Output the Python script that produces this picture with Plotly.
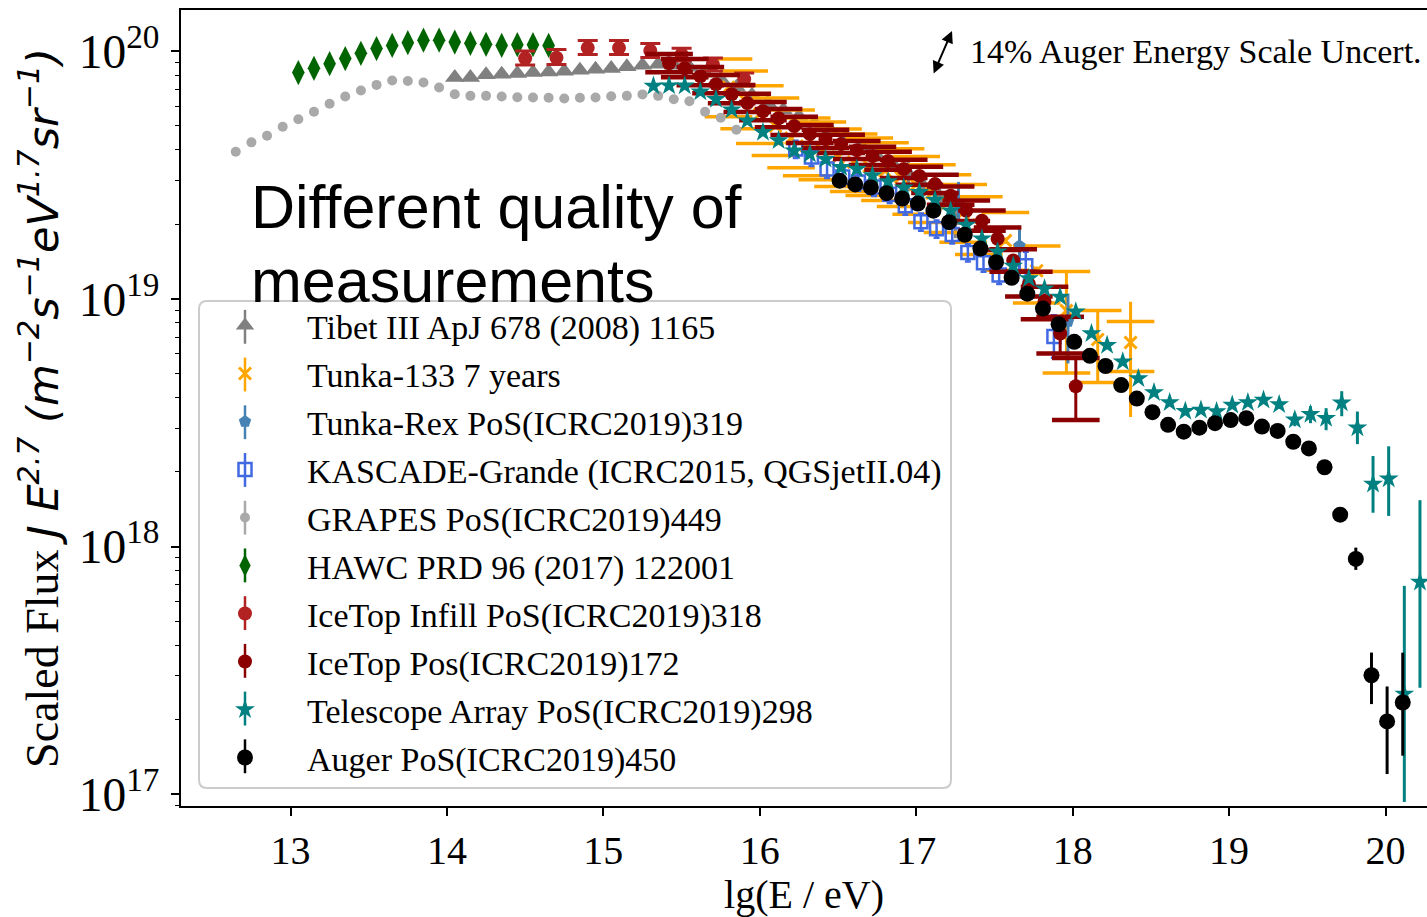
import plotly.graph_objects as go

# ---------------- data ----------------
grapes_x = [12.65, 12.75, 12.85, 12.95, 13.05, 13.15, 13.25, 13.35, 13.45, 13.55, 13.65,
            13.75, 13.85, 13.95, 14.05, 14.15, 14.25, 14.35, 14.45, 14.55, 14.65, 14.75,
            14.85, 14.95, 15.05, 15.15, 15.25, 15.35, 15.45, 15.55, 15.65, 15.75, 15.85]
grapes_y = [3.93e19, 4.29e19, 4.56e19, 4.96e19, 5.32e19, 5.70e19, 6.14e19, 6.57e19, 6.95e19,
            7.32e19, 7.62e19, 7.59e19, 7.48e19, 7.14e19, 6.71e19, 6.61e19, 6.61e19, 6.57e19,
            6.53e19, 6.51e19, 6.49e19, 6.45e19, 6.49e19, 6.51e19, 6.59e19, 6.61e19, 6.70e19,
            6.61e19, 6.41e19, 6.29e19, 5.70e19, 5.39e19, 4.82e19]

hawc_x = [13.05, 13.15, 13.25, 13.35, 13.45, 13.55, 13.65, 13.75, 13.85, 13.95, 14.05,
          14.15, 14.25, 14.35, 14.45, 14.55, 14.65]
hawc_y = [8.21e19, 8.54e19, 8.92e19, 9.35e19, 9.82e19, 1.026e20, 1.057e20, 1.084e20, 1.11e20,
          1.11e20, 1.09e20, 1.077e20, 1.067e20, 1.057e20, 1.064e20, 1.064e20, 1.057e20]

tibet_x = [14.05, 14.15, 14.25, 14.35, 14.45, 14.55, 14.65, 14.75, 14.85, 14.95, 15.05,
           15.15, 15.25, 15.35, 15.45, 15.55, 15.65, 15.75, 15.85, 15.95, 16.05, 16.15,
           16.25, 16.35, 16.45, 16.55, 16.65, 16.75, 16.85, 16.95, 17.05, 17.15, 17.25]
tibet_y = [7.85e19, 7.85e19, 8.04e19, 8.08e19, 8.13e19, 8.21e19, 8.26e19, 8.31e19, 8.38e19,
           8.47e19, 8.52e19, 8.67e19, 8.78e19, 8.86e19, 8.78e19, 8.62e19, 8.15e19, 7.71e19,
           7.16e19, 6.65e19, 6.18e19, 5.79e19, 5.47e19, 5.13e19, 4.81e19, 4.51e19, 4.14e19,
           3.78e19, 3.51e19, 3.20e19, 2.83e19, 2.54e19, 2.07e19]
tibet_err_pct = [2, 2, 2, 2, 2, 2, 2, 2, 2, 2, 2, 2, 2, 2, 2, 2, 2, 2, 2, 2, 2, 3,
                 3, 3, 3, 4, 4, 5, 6, 15, 8, 10, 15]

tunka_x = [15.8, 15.9, 16.0, 16.1, 16.2, 16.3, 16.4, 16.5, 16.6, 16.7, 16.8, 16.9, 17.0,
           17.1, 17.2, 17.3, 17.4, 17.57, 17.77, 17.96, 18.16, 18.37]
tunka_y = [7.16e19, 6.41e19, 5.58e19, 4.99e19, 4.46e19, 4.14e19, 3.99e19, 3.74e19, 3.57e19,
           3.44e19, 3.29e19, 3.11e19, 2.89e19, 2.68e19, 2.44e19, 2.23e19, 1.99e19, 1.72e19,
           1.30e19, 8.97e18, 6.86e18, 6.67e18]
# statistical errors (vertical lines)
tunka_stat_up_pct = [2, 2, 2, 2, 2, 2, 2, 2, 2, 2, 2, 2, 2, 2, 2, 2, 2, 3, 4, 44, 31, 46]
tunka_stat_dn_pct = [2, 2, 2, 2, 2, 2, 2, 2, 2, 2, 2, 2, 2, 2, 2, 2, 2, 3, 4, 44, 33, 50]
# systematic errors (horizontal dashes)
tunka_sys_up_pct = [30, 30, 30, 30, 30, 30, 30, 30, 30, 30, 30, 30, 30, 30, 30, 30, 30, 30,
                    26, 44, 31, 21.5]
tunka_sys_dn_pct = [24, 24, 24, 24, 24, 24, 24, 24, 24, 24, 24, 24, 24, 24, 24, 24, 24, 24,
                    26, 44, 33, 23.6]

trex_x = [17.27, 17.66, 17.97]
trex_y = [2.42e19, 1.64e19, 8.11e18]
trex_up_pct = [22.7, 20.4, 28.4]
trex_dn_pct = [16.9, 24.3, 32.3]

kg_x = [16.23, 16.33, 16.43, 16.53, 16.63, 16.73, 16.83, 16.93, 17.03, 17.13, 17.23,
        17.33, 17.43, 17.53, 17.70, 17.88]
kg_y = [4.03e19, 3.74e19, 3.35e19, 3.11e19, 2.97e19, 2.83e19, 2.65e19, 2.38e19, 2.05e19,
        1.92e19, 1.82e19, 1.54e19, 1.40e19, 1.25e19, 1.36e19, 7.05e18]
kg_up_pct = [8, 8, 8, 8, 8, 8, 8, 8, 8, 8, 8, 8, 8, 8, 14, 22]
kg_dn_pct = [8, 8, 8, 8, 8, 8, 8, 8, 8, 8, 8, 8, 8, 8, 12, 18]

infill_x = [14.5, 14.7, 14.9, 15.1, 15.3, 15.5, 15.7, 15.9]
infill_y = [9.37e19, 9.42e19, 1.033e20, 1.033e20, 1.005e20, 9.72e19, 8.86e19, 7.71e19]
infill_up_pct = [7, 8, 7, 7, 7, 6, 6, 6]
infill_dn_pct = [6, 6, 6, 6, 6, 6, 6, 6]

icetop_x = [15.42, 15.52, 15.62, 15.72, 15.82, 15.92, 16.02, 16.12, 16.22, 16.32, 16.42,
            16.52, 16.62, 16.72, 16.82, 16.92, 17.02, 17.12, 17.22, 17.32, 17.42, 17.52,
            17.62, 17.72, 17.82, 17.92, 18.02]
icetop_y = [8.95e19, 8.54e19, 7.93e19, 7.36e19, 6.71e19, 6.18e19, 5.73e19, 5.37e19, 4.99e19,
            4.63e19, 4.42e19, 4.22e19, 3.99e19, 3.78e19, 3.61e19, 3.35e19, 3.14e19, 2.91e19,
            2.61e19, 2.27e19, 2.07e19, 1.75e19, 1.43e19, 1.15e19, 9.75e18, 7.25e18, 4.44e18]
icetop_stat_up_pct = [2, 2, 2, 2, 2, 2, 2, 2, 2, 2, 2, 2, 2, 2, 2, 2, 2, 2, 2, 3, 3, 3,
                      4, 5, 8, 17, 30]
icetop_stat_dn_pct = [2, 2, 2, 2, 2, 2, 2, 2, 2, 2, 2, 2, 2, 2, 2, 2, 2, 2, 2, 3, 3, 3,
                      4, 5, 8, 17, 27]
icetop_sys_up_pct = [9, 9, 9, 9, 9, 9, 9, 9, 9, 9, 9, 9, 9, 9, 9, 9, 9, 9, 9, 10, 10, 11,
                     11, 12, 15, 17, 30]
icetop_sys_dn_pct = [8, 8, 8, 8, 8, 8, 8, 8, 8, 8, 8, 8, 8, 8, 8, 8, 8, 8, 8, 9, 9, 10,
                     10, 11, 15, 17, 27]

ta_x = [15.32, 15.42, 15.52, 15.62, 15.72, 15.82, 15.92, 16.02, 16.12, 16.22, 16.32, 16.42,
        16.52, 16.62, 16.72, 16.82, 16.92, 17.02, 17.12, 17.22, 17.32, 17.42, 17.52, 17.62,
        17.72, 17.82, 17.92, 18.02, 18.12, 18.22, 18.32, 18.42, 18.52, 18.62, 18.72, 18.82,
        18.92, 19.02, 19.12, 19.22, 19.32, 19.42, 19.52, 19.62, 19.72, 19.82, 19.92, 20.02,
        20.12, 20.22]
ta_y = [7.25e19, 7.27e19, 7.26e19, 6.87e19, 6.41e19, 5.81e19, 5.24e19, 4.71e19, 4.36e19,
        3.97e19, 3.85e19, 3.67e19, 3.40e19, 3.35e19, 3.15e19, 2.98e19, 2.81e19, 2.70e19,
        2.51e19, 2.27e19, 1.99e19, 1.75e19, 1.55e19, 1.36e19, 1.21e19, 1.10e19, 1.018e19,
        8.87e18, 7.25e18, 6.50e18, 5.57e18, 4.77e18, 4.19e18, 3.82e18, 3.52e18, 3.56e18,
        3.51e18, 3.73e18, 3.82e18, 3.91e18, 3.75e18, 3.25e18, 3.42e18, 3.30e18, 3.81e18,
        3.02e18, 1.79e18, 1.88e18, 2.54e17, 7.19e17]
ta_up_pct = [1, 1, 1, 1, 1, 1, 1, 1, 1, 1, 1, 1, 1, 1, 1, 1, 1, 1, 1, 1, 1, 1, 1, 1, 1,
             1, 1, 1, 1, 1, 1, 1, 1, 1, 2, 2, 2, 2, 3, 3, 4, 6.2, 7.9, 9.7, 11.3, 16.2,
             29.6, 35.1, 173, 114]
ta_dn_pct = [1, 1, 1, 1, 1, 1, 1, 1, 1, 1, 1, 1, 1, 1, 1, 1, 1, 1, 1, 1, 1, 1, 1, 1, 1,
             1, 1, 1, 1, 1, 1, 1, 1, 1, 2, 2, 2, 2, 3, 3, 4, 5.8, 7.9, 10.6, 11.8, 14.2,
             23.5, 29.3, 63.4, 62.6]

auger_x = [16.51, 16.61, 16.71, 16.81, 16.91, 17.01, 17.11, 17.21, 17.31, 17.41, 17.51,
           17.61, 17.71, 17.81, 17.91, 18.01, 18.11, 18.21, 18.31, 18.41, 18.51, 18.61,
           18.71, 18.81, 18.91, 19.01, 19.11, 19.21, 19.31, 19.41, 19.51, 19.61, 19.71,
           19.81, 19.91, 20.01, 20.11]
auger_y = [3.005e19, 2.90e19, 2.82e19, 2.675e19, 2.545e19, 2.428e19, 2.272e19, 2.042e19,
           1.815e19, 1.597e19, 1.407e19, 1.218e19, 1.050e19, 9.14e18, 7.90e18, 6.71e18,
           5.89e18, 5.36e18, 4.49e18, 3.96e18, 3.49e18, 3.10e18, 2.91e18, 3.02e18, 3.15e18,
           3.24e18, 3.30e18, 3.05e18, 2.93e18, 2.65e18, 2.49e18, 2.09e18, 1.345e18, 8.91e17,
           3.02e17, 1.966e17, 2.344e17]
auger_up_pct = [1, 1, 1, 1, 1, 1, 1, 1, 1, 1, 1, 1, 1, 1, 1, 1, 1, 1, 1, 1, 1, 1, 1, 1,
                1, 1, 1, 1, 1, 1, 1, 2, 4.7, 11.1, 23.5, 38.4, 59]
auger_dn_pct = [1, 1, 1, 1, 1, 1, 1, 1, 1, 1, 1, 1, 1, 1, 1, 1, 1, 1, 1, 1, 1, 1, 1, 1,
                1, 1, 1, 1, 1, 1, 1, 2, 4.7, 9.7, 23.5, 38.7, 39]

x_ticks = [13, 14, 15, 16, 17, 18, 19, 20]

legend_names = ["Tibet III ApJ 678 (2008) 1165",
                "Tunka-133 7 years",
                "Tunka-Rex PoS(ICRC2019)319",
                "KASCADE-Grande (ICRC2015, QGSjetII.04)",
                "GRAPES PoS(ICRC2019)449",
                "HAWC PRD 96 (2017) 122001",
                "IceTop Infill PoS(ICRC2019)318",
                "IceTop Pos(ICRC2019)172",
                "Telescope Array PoS(ICRC2019)298",
                "Auger PoS(ICRC2019)450"]
legend_colors = ["#808080", "#ffa500", "#4682b4", "#4169e1", "#a9a9a9",
                 "#006400", "#b22222", "#8b0000", "#008080", "#000000"]


def err(vals, pct):
    return [v * p / 100.0 for v, p in zip(vals, pct)]


def shifted(vals, pct, sign):
    return [v * (1 + sign * p / 100.0) for v, p in zip(vals, pct)]


SERIF = "Liberation Serif, Times New Roman, serif"
DJ = "DejaVu Sans"

fig = go.Figure()


def add(name, x, y, color, symbol, size, up=None, dn=None, cap=0, thick=2.5,
        line_w=0, line_color=None):
    ekw = dict(visible=False)
    if up is not None:
        ekw = dict(type="data", array=err(y, up), arrayminus=err(y, dn),
                   color=color, thickness=thick, width=cap, visible=True)
    fig.add_trace(go.Scatter(
        x=x, y=y, name=name, legendgroup=name, mode="markers",
        marker=dict(color=color, symbol=symbol, size=size,
                    line=dict(width=line_w, color=line_color or color)),
        error_y=ekw))


def add_sys(name, x, y, up, dn, color, size, width):
    for sgn, pct in ((1, up), (-1, dn)):
        fig.add_trace(go.Scatter(
            x=x, y=shifted(y, pct, sgn), mode="markers", showlegend=False,
            legendgroup=name, hoverinfo="skip",
            marker=dict(symbol="line-ew", size=size, color=color,
                        line=dict(width=width, color=color))))


add(legend_names[0], tibet_x, tibet_y, legend_colors[0], "triangle-up", 17,
    tibet_err_pct, tibet_err_pct, cap=0, thick=3)
add(legend_names[1], tunka_x, tunka_y, legend_colors[1], "x-thin", 12,
    tunka_stat_up_pct, tunka_stat_dn_pct, cap=0, thick=3, line_w=3)
add_sys(legend_names[1], tunka_x, tunka_y, tunka_sys_up_pct, tunka_sys_dn_pct,
        legend_colors[1], 34, 3.5)
add(legend_names[2], trex_x, trex_y, legend_colors[2], "pentagon", 13,
    trex_up_pct, trex_dn_pct, cap=0, thick=3)
add(legend_names[3], kg_x, kg_y, legend_colors[3], "square-open", 13,
    kg_up_pct, kg_dn_pct, cap=3, thick=2.5, line_w=2.5)
add(legend_names[4], grapes_x, grapes_y, legend_colors[4], "circle", 10)
add(legend_names[5], hawc_x, hawc_y, legend_colors[5], "diamond-tall", 18)
add(legend_names[6], infill_x, infill_y, legend_colors[6], "circle", 14,
    infill_up_pct, infill_dn_pct, cap=10, thick=3)
add(legend_names[7], icetop_x, icetop_y, legend_colors[7], "circle", 14,
    icetop_stat_up_pct, icetop_stat_dn_pct, cap=0, thick=3)
add_sys(legend_names[7], icetop_x, icetop_y, icetop_sys_up_pct, icetop_sys_dn_pct,
        legend_colors[7], 34, 4.5)
add(legend_names[8], ta_x, ta_y, legend_colors[8], "star", 15,
    ta_up_pct, ta_dn_pct, cap=0, thick=3)
add(legend_names[9], auger_x, auger_y, legend_colors[9], "circle", 16,
    auger_up_pct, auger_dn_pct, cap=0, thick=3)

# plot area in pixels: left 181, top 10, width 1246, height 799
W, H = 1427, 917
L, T, PW, PH = 181, 10, 1246, 799


def px(xp):
    return (xp - L) / PW


def py(yp):
    return (T + PH - yp) / PH


# rounded legend frame
x0, x1, y0, y1 = px(199), px(951), py(791), py(302)
rx, ry = 8 / PW, 8 / PH
path = (f"M {x0+rx},{y0} L {x1-rx},{y0} Q {x1},{y0} {x1},{y0+ry} "
        f"L {x1},{y1-ry} Q {x1},{y1} {x1-rx},{y1} L {x0+rx},{y1} "
        f"Q {x0},{y1} {x0},{y1-ry} L {x0},{y0+ry} Q {x0},{y0} {x0+rx},{y0} Z")
shapes = [dict(type="path", path=path, xref="paper", yref="paper",
               line=dict(color="#cccccc", width=2), fillcolor="rgba(255,255,255,0.8)",
               layer="below")]
# error-bar strokes of the legend keys
row0, row_gap = 328, 47.9
for i, c in enumerate(legend_colors):
    yc = row0 + i * row_gap
    shapes.append(dict(type="line", xref="paper", yref="paper",
                       x0=px(245), x1=px(245), y0=py(yc - 17), y1=py(yc + 17),
                       line=dict(color=c, width=2.5), layer="above"))

ytitle = (f"Scaled Flux <span style=\"font-family:{DJ};font-style:italic;font-size:43px\">"
          f"J E<sup>2.7</sup> (m<sup>−2</sup>s<sup>−1</sup>eV<sup>1.7</sup>"
          f"sr<sup>−1</sup>)</span>")

fig.update_layout(
    width=W, height=H,
    margin=dict(l=L, r=0, t=T, b=H - T - PH),
    paper_bgcolor="white", plot_bgcolor="white",
    font=dict(family=SERIF, size=34, color="black"),
    shapes=shapes,
    legend=dict(x=px(183), y=py(298), xanchor="left", yanchor="top",
                bgcolor="rgba(0,0,0,0)", borderwidth=0, itemwidth=114,
                font=dict(family=SERIF, size=34, color="black"),
                tracegroupgap=0.8),
    showlegend=True,
    xaxis=dict(range=[12.30, 20.265], tickmode="array", tickvals=x_ticks,
               ticks="outside", ticklen=8, tickwidth=1.5, tickcolor="black",
               showline=True, linecolor="black", linewidth=2, mirror=True,
               showgrid=False, zeroline=False,
               tickfont=dict(family=SERIF, size=40), ticklabelstandoff=0,
               title=dict(text="lg(E / eV)", font=dict(family=SERIF, size=40),
                          standoff=16)),
    yaxis=dict(type="log", range=[16.952, 20.167], dtick=1, exponentformat="power",
               ticks="outside", ticklen=8, tickwidth=1.5, tickcolor="black",
               minor=dict(ticks="outside", ticklen=4.5, tickwidth=1.2,
                          tickcolor="black", dtick="D1", showgrid=False),
               showline=True, linecolor="black", linewidth=2, mirror=False,
               showgrid=False, zeroline=False,
               tickfont=dict(family=SERIF, size=38), ticklabelstandoff=4,
               title=dict(text=ytitle, font=dict(family=SERIF, size=46), standoff=6)),
    annotations=[
        dict(text="Different quality of", xref="paper", yref="paper",
             x=px(249), y=py(208), xanchor="left", yanchor="middle", showarrow=False,
             font=dict(family="Liberation Sans, Arial, sans-serif", size=61, color="black")),
        dict(text="measurements", xref="paper", yref="paper",
             x=px(249), y=py(282), xanchor="left", yanchor="middle", showarrow=False,
             font=dict(family="Liberation Sans, Arial, sans-serif", size=61, color="black")),
        dict(text="14% Auger Energy Scale Uncert.", xref="paper", yref="paper",
             x=px(968), y=py(52), xanchor="left", yanchor="middle", showarrow=False,
             font=dict(family=SERIF, size=34, color="black")),
        dict(text="", xref="paper", yref="paper", x=px(952), y=py(31),
             ax=-19, ay=44, showarrow=True, arrowside="end+start",
             arrowhead=2, startarrowhead=2, arrowsize=1.2, startarrowsize=1.2,
             arrowwidth=2, arrowcolor="black"),
    ],
)

fig.write_html("out.html")
